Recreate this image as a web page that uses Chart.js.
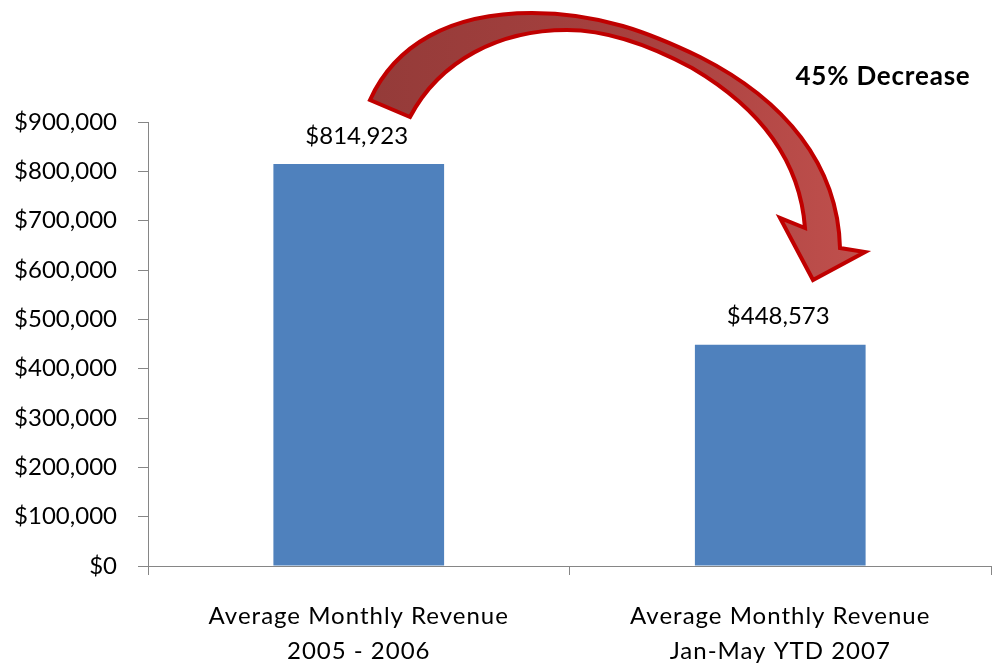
<!DOCTYPE html>
<html>
<head>
<meta charset="utf-8">
<script src="https://cdn.jsdelivr.net/npm/chart.js@4"></script>
<style>
  html, body { margin: 0; padding: 0; background: #ffffff; }
  #wrap { width: 993px; height: 664px; position: relative; }
</style>
</head>
<body>
<div id="wrap"><canvas id="c"></canvas></div>
<script>
const categories = [
  ['Average Monthly Revenue', '2005 - 2006'],
  ['Average Monthly Revenue', 'Jan-May YTD 2007']
];
const revenue = [814923, 448573];
const yMin = 0;
const yMax = 900000;
const yStep = 100000;
const annotationText = '45% Decrease';

const FONT = 'Lato, "Open Sans", "Liberation Sans", sans-serif';

function money(v) {
  return '$' + Math.round(v).toLocaleString('en-US');
}

// Category scale whose labels are drawn with slight letter spacing
class SpacedCategory extends Chart.CategoryScale {
  drawLabels(area) {
    const ctx = this.ctx;
    ctx.save();
    ctx.letterSpacing = '1px';
    super.drawLabels(area);
    ctx.restore();
  }
}
SpacedCategory.id = 'spacedCategory';
SpacedCategory.defaults = Chart.CategoryScale.defaults;
Chart.register(SpacedCategory);

// Data labels above bars
const valueLabels = {
  id: 'valueLabels',
  afterDatasetsDraw(chart) {
    const ctx = chart.ctx;
    const meta = chart.getDatasetMeta(0);
    ctx.save();
    ctx.font = '24px ' + FONT;
    ctx.fillStyle = '#000000';
    ctx.textAlign = 'center';
    ctx.textBaseline = 'middle';
    meta.data.forEach((bar, i) => {
      ctx.fillText(money(revenue[i]), bar.x - 2, bar.y - 28);
    });
    ctx.restore();
  }
};

// Curved arrow annotation, defined in a reference frame of the plot area
const curvedArrow = {
  id: 'curvedArrow',
  afterDraw(chart) {
    const a = chart.chartArea;
    // reference frame: plot area left 148, top 122, width 843, height 444
    const sx = (a.right - a.left) / 843, sy = (a.bottom - a.top) / 444;
    const X = x => a.left + (x - 148) * sx;
    const Y = y => a.top + (y - 122) * sy;
    const ctx = chart.ctx;
    ctx.save();
    ctx.beginPath();
    ctx.moveTo(X(370), Y(100));
    ctx.bezierCurveTo(X(395), Y(45), X(450), Y(13), X(532), Y(13));
    ctx.bezierCurveTo(X(600), Y(13), X(650), Y(33), X(700), Y(57));
    ctx.bezierCurveTo(X(785), Y(100), X(838), Y(165), X(840), Y(248));
    ctx.lineTo(X(865), Y(252));
    ctx.lineTo(X(813), Y(280));
    ctx.lineTo(X(780), Y(218));
    ctx.lineTo(X(805), Y(228));
    ctx.bezierCurveTo(X(800), Y(160), X(760), Y(108), X(692), Y(68));
    ctx.bezierCurveTo(X(640), Y(40), X(600), Y(30), X(567), Y(30));
    ctx.bezierCurveTo(X(500), Y(30), X(440), Y(60), X(410), Y(117));
    ctx.closePath();
    const g = ctx.createLinearGradient(X(370), 0, X(865), 0);
    g.addColorStop(0, '#943B39');
    g.addColorStop(0.55, '#A8413F');
    g.addColorStop(1, '#C0504D');
    ctx.fillStyle = g;
    ctx.fill();
    ctx.lineWidth = 4;
    ctx.lineJoin = 'miter';
    ctx.strokeStyle = '#C00000';
    ctx.stroke();
    // annotation text
    ctx.font = 'bold 26px ' + FONT;
    ctx.letterSpacing = '0.8px';
    ctx.fillStyle = '#000000';
    ctx.textAlign = 'center';
    ctx.textBaseline = 'middle';
    ctx.fillText(annotationText, X(883), Y(77));
    ctx.restore();
  }
};

new Chart(document.getElementById('c'), {
  type: 'bar',
  data: {
    labels: categories,
    datasets: [{
      data: revenue,
      backgroundColor: '#4F81BD',
      borderWidth: 0,
      categoryPercentage: 1.0,
      barPercentage: 0.405
    }]
  },
  options: {
    responsive: true,
    maintainAspectRatio: false,
    animation: false,
    layout: { padding: { top: 122, right: 2, left: 0, bottom: 0 } },
    plugins: {
      legend: { display: false },
      tooltip: { enabled: false }
    },
    scales: {
      x: {
        type: 'spacedCategory',
        afterFit(scale) { scale.height = 98; },
        border: { display: true, color: '#868686', width: 1 },
        grid: { display: true, drawOnChartArea: false, drawTicks: true, tickLength: 9, color: '#868686', offset: true },
        ticks: {
          color: '#000000',
          font: { family: FONT, size: 24, lineHeight: 1.45 },
          padding: 24,
          maxRotation: 0,
          autoSkip: false
        }
      },
      y: {
        min: yMin,
        max: yMax,
        afterFit(scale) { scale.width = 148; },
        border: { display: true, color: '#868686', width: 1 },
        grid: { display: true, drawOnChartArea: false, drawTicks: true, tickLength: 10, color: '#868686' },
        ticks: {
          stepSize: yStep,
          color: '#000000',
          font: { family: FONT, size: 24 },
          padding: 21,
          callback: v => money(v)
        }
      }
    }
  },
  plugins: [valueLabels, curvedArrow]
});
</script>
</body>
</html>
